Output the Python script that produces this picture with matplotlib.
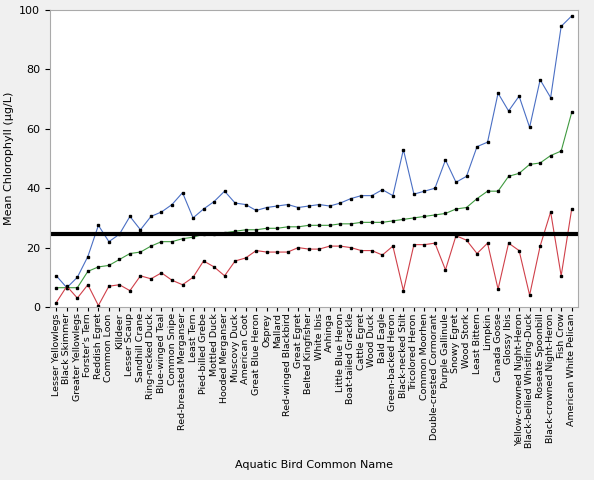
import matplotlib
matplotlib.use("Agg")
import matplotlib.pyplot as plt
import numpy as np

birds = ["Lesser Yellowlegs","Black Skimmer","Greater Yellowlegs","Forster's Tern","Reddish Egret",
"Common Loon","Killdeer","Lesser Scaup","Sandhill Crane","Ring-necked Duck","Blue-winged Teal",
"Common Snipe","Red-breasted Merganser","Least Tern","Pied-billed Grebe","Mottled Duck",
"Hooded Merganser","Muscovy Duck","American Coot","Great Blue Heron","Osprey","Mallard",
"Red-winged Blackbird","Great Egret","Belted Kingfisher","White Ibis","Anhinga","Little Blue Heron",
"Boat-tailed Grackle","Cattle Egret","Wood Duck","Bald Eagle","Green-backed Heron","Black-necked Stilt",
"Tricolored Heron","Common Moorhen","Double-crested Cormorant","Purple Gallinule","Snowy Egret",
"Wood Stork","Least Bittern","Limpkin","Canada Goose","Glossy Ibis","Yellow-crowned Night-Heron",
"Black-bellied Whistling-Duck","Roseate Spoonbill","Black-crowned Night-Heron","Fish Crow",
"American White Pelican"]
upper = [10.5,6.5,10,17,27.5,22,24.5,30.5,26,30.5,32,34.5,38.5,30,33,35.5,39,35,34.5,32.5,
         33.5,34,34.5,33.5,34,34.5,34,35,36.5,37.5,37.5,39.5,37.5,53,38,39,40,49.5,42,44,
         54,55.5,72,66,71,60.5,76.5,70.5,94.5,98]
mean = [6.5,6.5,6.5,12,13.5,14,16,18,18.5,20.5,22,22,23,23.5,24.5,24.5,25,25.5,26,26,
        26.5,26.5,27,27,27.5,27.5,27.5,28,28,28.5,28.5,28.5,29,29.5,30,30.5,31,31.5,33,33.5,
        36.5,39,39,44,45,48,48.5,51,52.5,65.5]
lower = [1.5,7,3,7.5,0.5,7,7.5,5.5,10.5,9.5,11.5,9,7.5,10,15.5,13.5,10.5,15.5,16.5,19,
         18.5,18.5,18.5,20,19.5,19.5,20.5,20.5,20,19,19,17.5,20.5,5.5,21,21,21.5,12.5,24,22.5,
         18,21.5,6,21.5,19,4,20.5,32,10.5,33]
ref_line = 24.5

fig = plt.figure(figsize=(5.94,4.8), dpi=100, facecolor="#f0f0f0")
ax = fig.add_axes([50/594, 1-307/480, 528/594, 297/480])
x = np.arange(len(birds))
ax.plot(x, upper, color="#4a6fc4", lw=0.8, marker="s", ms=1.6, mfc="black", mec="black")
ax.plot(x, mean, color="#3f9a3f", lw=0.8, marker="s", ms=1.6, mfc="black", mec="black")
ax.plot(x, lower, color="#d0404a", lw=0.8, marker="s", ms=1.6, mfc="black", mec="black")
ax.axhline(ref_line, color="black", lw=3)
ax.set_xlim(-0.6, len(birds)-0.4)
ax.set_ylim(0, 100)
ax.set_yticks([0,20,40,60,80,100])
ax.set_xticks(x)
ax.set_xticklabels(birds, rotation=90, fontsize=6.8)
ax.tick_params(axis="y", labelsize=8)
ax.tick_params(axis="x", length=3, pad=1.5)
ax.set_ylabel("Mean Chlorophyll (µg/L)", fontsize=8)
fig.text(314/594, 1-465/480, "Aquatic Bird Common Name", fontsize=8, ha="center", va="center")
for s in ax.spines.values():
    s.set_color("#aaaaaa")
fig.savefig("out.png", dpi=100, facecolor=fig.get_facecolor())
